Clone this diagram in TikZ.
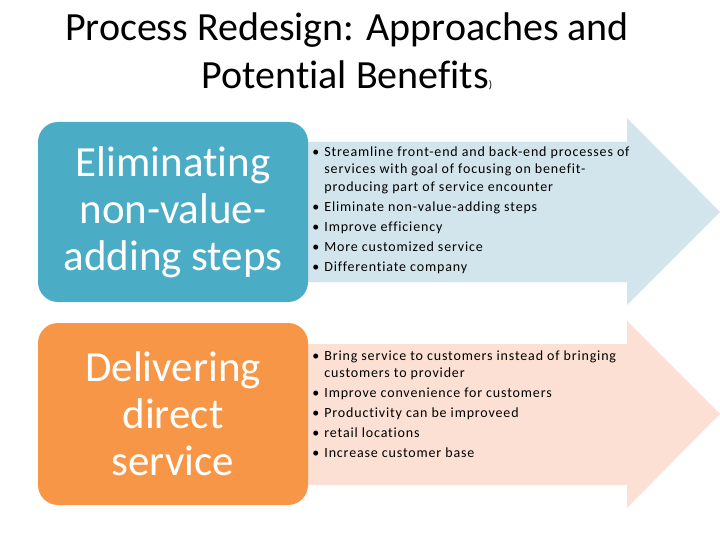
\documentclass[tikz,border=0pt]{standalone}
\usepackage{fontspec}
\setmainfont{Carlito}[Ligatures=CommonOff]
\usetikzlibrary{positioning}
\definecolor{boxblue}{HTML}{4BACC6}
\definecolor{arrowblue}{HTML}{D3E5EC}
\definecolor{boxorange}{HTML}{F79646}
\definecolor{arroworange}{HTML}{FCE0D4}
\newcommand{\bitem}[1]{\par\hangindent=12pt\hangafter=1\noindent\makebox[12pt][l]{\textbullet}#1}
\newcommand{\bulletlist}[1]{\parbox{380pt}{\raggedright\setlength{\parskip}{2.5pt}%
  \addfontfeatures{LetterSpace=6}#1}}

\begin{document}
\begin{tikzpicture}[x=1pt, y=-1pt,
  approach/.style={rounded corners=20pt, minimum width=270pt, minimum height=180pt,
                   align=center, text=white, inner sep=0pt,
                   font=\fontsize{43}{47}\selectfont},
  benefits/.style={inner sep=0pt, font=\fontsize{14}{17.5}\selectfont},
  bigarrow/.style={draw=none}
]
\useasboundingbox (0,0) rectangle (720,540);

% title
\node[font=\fontsize{40}{48}\selectfont, align=center] (title) at (347,51)
  {Process Redesign: Approaches and\\Potential Benefits{\fontsize{11}{11}\selectfont)}};

% arrows behind the boxes
\fill[bigarrow, arrowblue] (300,142) -- (627,142) -- (627,118) -- (720,212)
  -- (627,305) -- (627,282) -- (300,282) -- cycle;
\fill[bigarrow, arroworange] (300,344) -- (627,344) -- (627,321) -- (720,414)
  -- (627,508) -- (627,485) -- (300,485) -- cycle;

% approaches
\node[approach, fill=boxblue] (elim) at (173,212) {Eliminating\\non-value-\\adding steps};
\node[approach, fill=boxorange, minimum height=182pt] (deliv) at (173,414)
  {Delivering\\direct\\service};

% benefits
\node[benefits, right=4pt of elim, yshift=2pt] (elimtext) {\bulletlist{%
  \bitem{Streamline front-end and back-end processes of\newline services with goal of focusing on benefit-\newline producing part of service encounter}
  \bitem{Eliminate non-value-adding steps}
  \bitem{Improve efficiency}
  \bitem{More customized service}
  \bitem{Differentiate company}}};
\node[benefits, right=4pt of deliv, yshift=10pt] (delivtext) {\bulletlist{%
  \bitem{Bring service to customers instead of bringing\newline customers to provider}
  \bitem{Improve convenience for customers}
  \bitem{Productivity can be improveed}
  \bitem{retail locations}
  \bitem{Increase customer base}}};
\end{tikzpicture}
\end{document}
